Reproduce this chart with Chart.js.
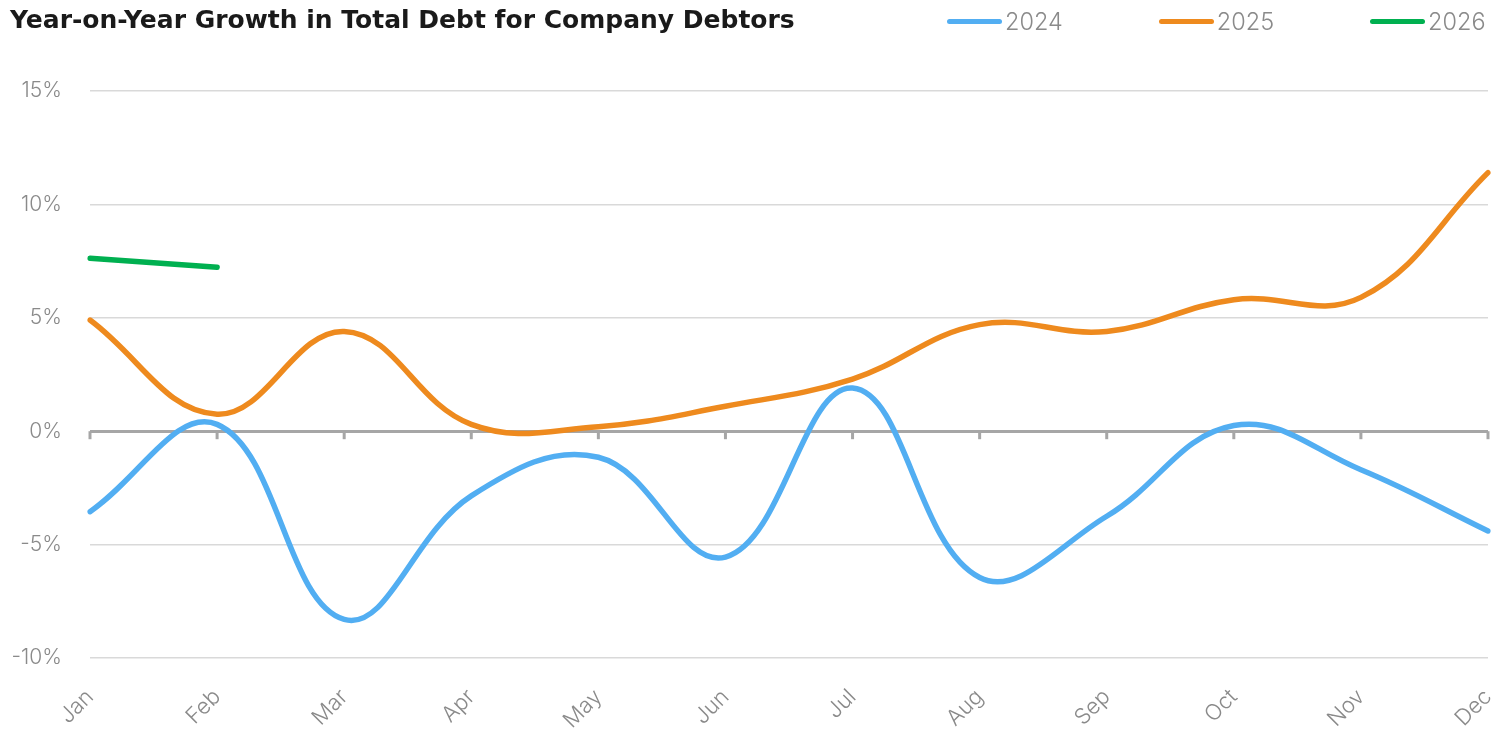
<!DOCTYPE html>
<html>
<head>
<meta charset="utf-8">
<script src="https://cdn.jsdelivr.net/npm/chart.js@4/dist/chart.umd.min.js"></script>
<style>
  html, body { margin: 0; padding: 0; background: #fff; }
  #wrap { position: relative; width: 1496px; height: 730px; }
  #legend { position: absolute; top: 7px; left: 947px; display: flex; gap: 96px; font-family: Inter, "Noto Sans", sans-serif; font-weight: 300; font-size: 23.5px; color: #8a8a8a; }
  #legend .item { display: flex; align-items: center; }
  #legend .bar { width: 55px; height: 5px; border-radius: 3px; margin-right: 3px; }
</style>
</head>
<body>
<div id="wrap">
  <canvas id="chart" width="1496" height="730"></canvas>
  <div id="legend"></div>
</div>
<script>
const months = ['Jan', 'Feb', 'Mar', 'Apr', 'May', 'Jun', 'Jul', 'Aug', 'Sep', 'Oct', 'Nov', 'Dec']
const growth2024 = [-3.55, 0.3, -8.3, -2.85, -1.15, -5.55, 1.9, -6.45, -3.75, 0.25, -1.7, -4.4]
const growth2025 = [4.9, 0.75, 4.4, 0.3, 0.2, 1.1, 2.3, 4.7, 4.4, 5.8, 5.9, 11.4]
const growth2026 = [7.63, 7.23]
const seriesNames = ['2024', '2025', '2026']
const seriesColors = ['#52aef2', '#ee8a1e', '#00b050']
const yTicks = [-10, -5, 0, 5, 10, 15]

const tickFont = { family: 'Inter, "Noto Sans", sans-serif', size: 21, weight: 300 }
const textGrey = '#8a8a8a'

// small tick marks hanging under the zero line
const zeroTicks = {
  id: 'zeroTicks',
  beforeDatasetsDraw (chart) {
    const { ctx, scales: { x, y } } = chart
    const y0 = y.getPixelForValue(0)
    ctx.save()
    ctx.strokeStyle = '#a6a6a6'
    ctx.lineWidth = 3
    months.forEach((m, i) => {
      const px = x.getPixelForValue(i)
      ctx.beginPath()
      ctx.moveTo(px, y0)
      ctx.lineTo(px, y0 + 8)
      ctx.stroke()
    })
    ctx.restore()
  }
}

const datasets = [growth2024, growth2025, growth2026].map((data, i) => ({
  label: seriesNames[i],
  data,
  borderColor: seriesColors[i],
  backgroundColor: seriesColors[i],
  borderWidth: 5.5,
  borderCapStyle: 'round',
  pointRadius: 0,
  tension: 0.4,
  fill: false
}))

const chart = new Chart(document.getElementById('chart'), {
  type: 'line',
  data: { labels: months, datasets },
  options: {
    responsive: false,
    animation: false,
    layout: { padding: { left: 10, right: 8, top: 0, bottom: 0 } },
    plugins: {
      legend: { display: false },
      tooltip: { enabled: false },
      title: {
        display: true,
        text: 'Year-on-Year Growth in Total Debt for Company Debtors',
        align: 'start',
        color: '#1a1a1a',
        font: { family: '"DejaVu Sans", sans-serif', size: 25, weight: 'bold', lineHeight: 1.2 },
        padding: { top: 6, bottom: 55 }
      }
    },
    scales: {
      x: {
        grid: { display: false },
        border: { display: false },
        ticks: {
          color: textGrey,
          font: { ...tickFont, size: 22 },
          minRotation: 45,
          maxRotation: 45,
          padding: 18
        },
        afterFit: s => { s.height = 72; s.paddingLeft = 0; s.paddingRight = 0 }
      },
      y: {
        min: -10,
        max: 15,
        afterBuildTicks: s => { s.ticks = yTicks.map(v => ({ value: v })) },
        grid: {
          drawTicks: false,
          color: c => c.tick && c.tick.value === 0 ? '#a6a6a6' : '#d9d9d9',
          lineWidth: c => c.tick && c.tick.value === 0 ? 3 : 1.5
        },
        border: { display: false },
        ticks: {
          color: textGrey,
          font: tickFont,
          padding: 28,
          callback: v => v + '%'
        },
        afterFit: s => { s.width = 80 }
      }
    }
  },
  plugins: [zeroTicks]
})

// legend built from the chart's own datasets
const legendEl = document.getElementById('legend')
chart.data.datasets.forEach(ds => {
  const item = document.createElement('div')
  item.className = 'item'
  const bar = document.createElement('span')
  bar.className = 'bar'
  bar.style.background = ds.borderColor
  const txt = document.createElement('span')
  txt.textContent = ds.label
  item.appendChild(bar)
  item.appendChild(txt)
  legendEl.appendChild(item)
})
</script>
</body>
</html>
